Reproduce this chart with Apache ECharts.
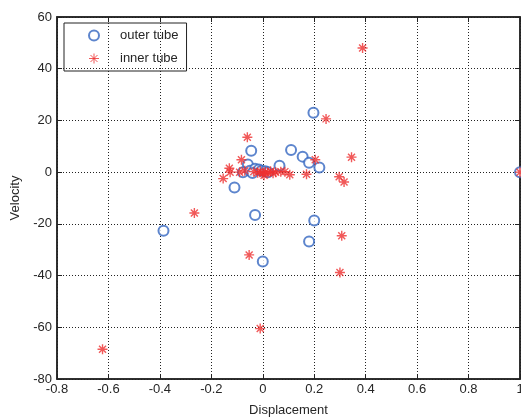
<!DOCTYPE html>
<html>
<head>
<meta charset="utf-8">
<script src="https://cdn.jsdelivr.net/npm/echarts@6/dist/echarts.min.js"></script>
<style>
  html, body { margin: 0; padding: 0; background: #fff; }
  #chart { width: 521px; height: 419px; }
</style>
</head>
<body>
<div id="chart"></div>
<script>
// outer tube (blue circles)
var outerX = [-0.386, 0.197, 0.2, 0.18, 0, -0.03, -0.11, -0.045, 0.11, 0.155, 0.18, 0.22, 0.065, 1,
  -0.058, -0.077, -0.05, -0.03, -0.015, -0.005, 0.01, 0.02, -0.04];
var outerY = [-22.7, 23, -18.7, -26.8, -34.6, -16.6, -5.9, 8.3, 8.6, 6, 3.6, 1.8, 2.5, 0,
  3, 0, 0.5, 1.3, 1, 0.5, 0.3, 0, -0.3];

// inner tube (red stars)
var innerX = [0.388, 0.246, 0.345, 0.204, 0.17, 0.297, 0.316, 0.307, 0.3, -0.053, -0.01, -0.266, -0.623,
  -0.06, -0.083, -0.13, -0.127, -0.154, 0.105, 0.086, 0.07, 0.05, 0.04, 0.03, 0.02, 0.01, 0,
  -0.01, -0.02, -0.035, -0.07, -0.09, 0.005, 1];
var innerY = [48, 20.6, 5.8, 4.8, -0.8, -1.8, -3.8, -24.6, -38.8, -32, -60.5, -15.8, -68.5,
  13.5, 4.8, 1.5, 0, -2.5, -1, 0.2, 0.2, 0, -0.4, 0.3, -0.2, 0.1, -0.5,
  0.3, -0.2, 0.2, 0.5, 0, -1.2, 0];

var xTicks = [-0.8, 1, 0.2];   // min, max, step
var yTicks = [-80, 60, 20];

var star = 'path://M0,-1L0,1M-1,0L1,0M-0.7,-0.7L0.7,0.7M-0.7,0.7L0.7,-0.7';
var txt = '#262626';
var font = 'Liberation Sans, Arial, sans-serif';

function pairs(xs, ys) {
  return xs.map(function (x, i) { return [x, ys[i]]; });
}

var chart = echarts.init(document.getElementById('chart'));

var tickStyle = { show: true, inside: true, length: 5, lineStyle: { color: '#222' } };
var frameLine = { show: true, onZero: false, lineStyle: { color: '#222', width: 1.5 } };

chart.setOption({
  animation: false,
  textStyle: { fontFamily: font },
  grid: {
    left: 57, right: 1, top: 17, bottom: 40,
    outerBoundsMode: 'none',
    containLabel: false,
    show: true, borderColor: '#222', borderWidth: 1.5, backgroundColor: '#fff'
  },
  legend: {
    orient: 'vertical',
    left: 64, top: 23,
    borderColor: '#222', borderWidth: 1,
    padding: [6, 8, 6, 24],
    itemGap: 10,
    itemWidth: 10, itemHeight: 10,
    textStyle: { color: txt, fontSize: 13, fontFamily: font, padding: [0, 0, 0, 16] },
    data: [
      { name: 'outer tube', icon: 'emptyCircle' },
      { name: 'inner tube', icon: star, itemStyle: { borderWidth: 1 } }
    ]
  },
  xAxis: [{
    type: 'value',
    min: xTicks[0], max: xTicks[1], interval: xTicks[2],
    name: 'Displacement', nameLocation: 'middle', nameGap: 25,
    nameTextStyle: { color: txt, fontSize: 13 },
    axisLine: frameLine,
    axisTick: tickStyle,
    axisLabel: {
      color: txt, fontSize: 13, margin: 4,
      formatter: function (v) { return String(Number(v.toFixed(1))); }
    },
    splitLine: { show: true, lineStyle: { color: '#222', type: [1, 2], width: 1 } }
  }, {
    type: 'value', position: 'top',
    min: xTicks[0], max: xTicks[1], interval: xTicks[2],
    axisLine: frameLine,
    axisTick: tickStyle, axisLabel: { show: false }, splitLine: { show: false }
  }],
  yAxis: [{
    type: 'value',
    min: yTicks[0], max: yTicks[1], interval: yTicks[2],
    name: 'Velocity', nameLocation: 'middle', nameGap: 28,
    nameTextStyle: { color: txt, fontSize: 13 },
    axisLine: frameLine,
    axisTick: tickStyle,
    axisLabel: { color: txt, fontSize: 13, margin: 5 },
    splitLine: { show: true, lineStyle: { color: '#222', type: [1, 2], width: 1 } }
  }, {
    type: 'value', position: 'right',
    min: yTicks[0], max: yTicks[1], interval: yTicks[2],
    axisLine: frameLine,
    axisTick: tickStyle, axisLabel: { show: false }, splitLine: { show: false }
  }],
  series: [{
    name: 'outer tube',
    type: 'scatter',
    symbol: 'emptyCircle',
    symbolSize: 10,
    itemStyle: { color: '#3567c0', borderWidth: 1.3 },
    data: pairs(outerX, outerY)
  }, {
    name: 'inner tube',
    type: 'scatter',
    symbol: star,
    symbolSize: 10,
    itemStyle: { color: 'transparent', borderColor: '#ee3030', borderWidth: 1.4 },
    data: pairs(innerX, innerY)
  }]
});
</script>
</body>
</html>
